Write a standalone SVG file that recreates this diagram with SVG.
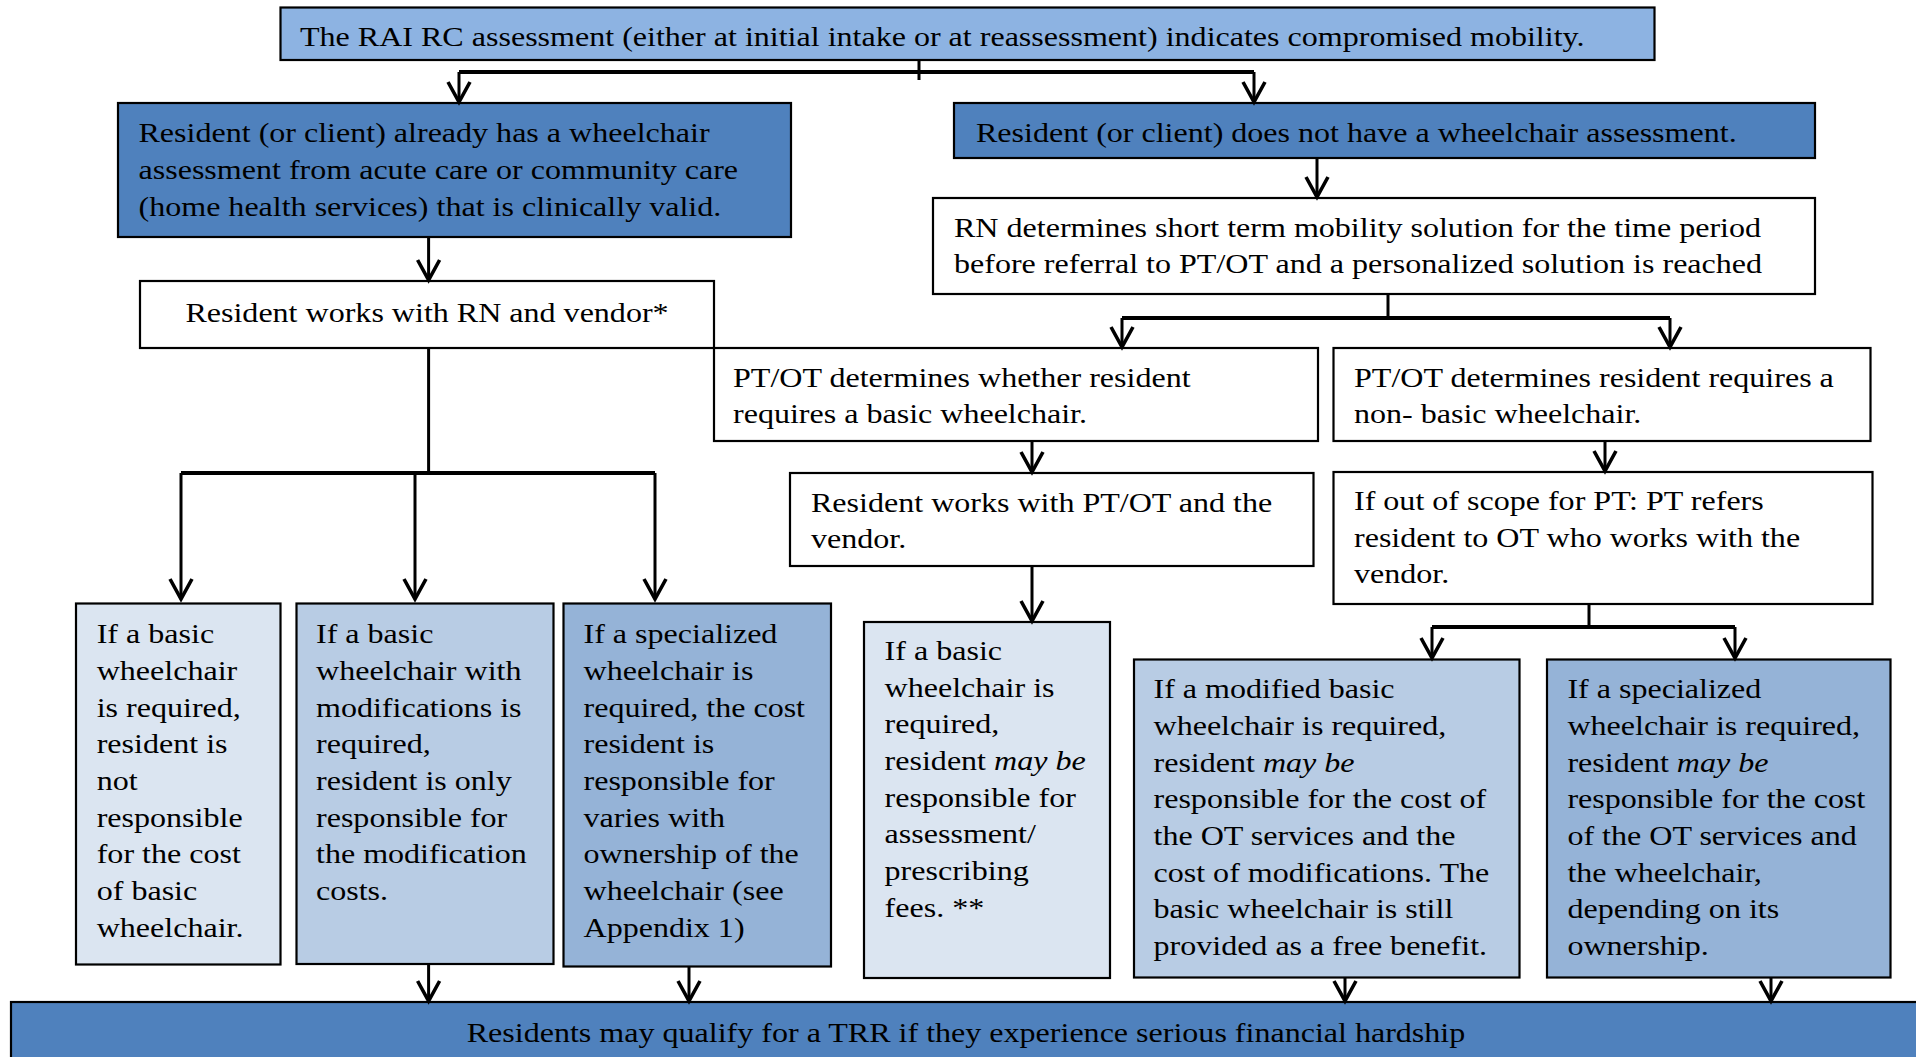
<svg xmlns="http://www.w3.org/2000/svg" width="1916" height="1057" viewBox="0 0 1916 1057">
<style>
.b{stroke:#000;stroke-width:2.2}
.w{fill:#fff}
.d{fill:#4F81BD}
.l{fill:#8DB3E2}
.c1{fill:#DBE5F1}
.c2{fill:#B8CCE4}
.c3{fill:#95B3D7}
text{font-family:"Liberation Serif","Times New Roman",serif;font-size:28px;fill:#000}
.i{font-style:italic}
.cn path{fill:none;stroke:#000;stroke-width:3}
.cn .bar{stroke-width:4}
</style>
<defs>
<marker id="arr" viewBox="-23 -13 25 26" refX="0" refY="0" markerWidth="25" markerHeight="26" markerUnits="userSpaceOnUse" orient="auto" overflow="visible">
<path d="M-20,-11 L0,0 L-20,11" fill="none" stroke="#000" stroke-width="3.6"/>
</marker>
</defs>
<rect width="1916" height="1057" fill="#fff"/>

<g id="n-top"><rect class="b l" x="280.5" y="7.5" width="1374" height="52.5"/>
<text transform="translate(300 46) scale(1.145 1)">The RAI RC assessment (either at initial intake or at reassessment) indicates compromised mobility.</text></g>

<g id="n-has"><rect class="b d" x="118" y="103" width="673" height="134"/>
<text transform="translate(138.5 141.7) scale(1.145 1)"><tspan x="0" y="0">Resident (or client) already has a wheelchair</tspan><tspan x="0" y="37">assessment from acute care or community care</tspan><tspan x="0" y="74">(home health services) that is clinically valid.</tspan></text></g>

<g id="n-hasnot"><rect class="b d" x="954" y="103" width="861" height="55"/>
<text transform="translate(976 141.7) scale(1.145 1)">Resident (or client) does not have a wheelchair assessment.</text></g>

<g id="n-rndet"><rect class="b w" x="933" y="198" width="882" height="96"/>
<text transform="translate(954 237.3) scale(1.145 1)"><tspan x="0" y="0">RN determines short term mobility solution for the time period</tspan><tspan x="0" y="36">before referral to PT/OT and a personalized solution is reached</tspan></text></g>

<g id="n-rnworks"><rect class="b w" x="140" y="281" width="574" height="67"/>
<text transform="translate(427 321.7) scale(1.145 1)" text-anchor="middle">Resident works with RN and vendor*</text></g>

<g id="n-ptbasic"><rect class="b w" x="714" y="348" width="604" height="93"/>
<text transform="translate(733 386.7) scale(1.145 1)"><tspan x="0" y="0">PT/OT determines whether resident</tspan><tspan x="0" y="36.6">requires a basic wheelchair.</tspan></text></g>

<g id="n-ptnonbasic"><rect class="b w" x="1333.5" y="348" width="537" height="93"/>
<text transform="translate(1354 386.7) scale(1.145 1)"><tspan x="0" y="0">PT/OT determines resident requires a</tspan><tspan x="0" y="36.6">non- basic wheelchair.</tspan></text></g>

<g id="n-ptworks"><rect class="b w" x="790" y="473" width="523.5" height="93"/>
<text transform="translate(811 511.7) scale(1.145 1)"><tspan x="0" y="0">Resident works with PT/OT and the</tspan><tspan x="0" y="36.6">vendor.</tspan></text></g>

<g id="n-scope"><rect class="b w" x="1333.5" y="472" width="539" height="132"/>
<text transform="translate(1354 510) scale(1.145 1)"><tspan x="0" y="0">If out of scope for PT: PT refers</tspan><tspan x="0" y="36.7">resident to OT who works with the</tspan><tspan x="0" y="73.4">vendor.</tspan></text></g>

<g id="n-a"><rect class="b c1" x="76" y="603.5" width="204.5" height="361"/>
<text transform="translate(96.7 643.3) scale(1.145 1)"><tspan x="0" y="0">If a basic</tspan><tspan x="0" y="36.7">wheelchair</tspan><tspan x="0" y="73.4">is required,</tspan><tspan x="0" y="110.1">resident is</tspan><tspan x="0" y="146.8">not</tspan><tspan x="0" y="183.5">responsible</tspan><tspan x="0" y="220.2">for the cost</tspan><tspan x="0" y="256.9">of basic</tspan><tspan x="0" y="293.6">wheelchair.</tspan></text></g>

<g id="n-b"><rect class="b c2" x="296.5" y="603.5" width="257" height="360.5"/>
<text transform="translate(316 643.3) scale(1.145 1)"><tspan x="0" y="0">If a basic</tspan><tspan x="0" y="36.7">wheelchair with</tspan><tspan x="0" y="73.4">modifications is</tspan><tspan x="0" y="110.1">required,</tspan><tspan x="0" y="146.8">resident is only</tspan><tspan x="0" y="183.5">responsible for</tspan><tspan x="0" y="220.2">the modification</tspan><tspan x="0" y="256.9">costs.</tspan></text></g>

<g id="n-c"><rect class="b c3" x="563.5" y="603.5" width="267.5" height="363"/>
<text transform="translate(583.5 643.3) scale(1.145 1)"><tspan x="0" y="0">If a specialized</tspan><tspan x="0" y="36.7">wheelchair is</tspan><tspan x="0" y="73.4">required, the cost</tspan><tspan x="0" y="110.1">resident is</tspan><tspan x="0" y="146.8">responsible for</tspan><tspan x="0" y="183.5">varies with</tspan><tspan x="0" y="220.2">ownership of the</tspan><tspan x="0" y="256.9">wheelchair (see</tspan><tspan x="0" y="293.6">Appendix 1)</tspan></text></g>

<g id="n-d"><rect class="b c1" x="864" y="622" width="246" height="356"/>
<text transform="translate(884.6 660) scale(1.145 1)"><tspan x="0" y="0">If a basic</tspan><tspan x="0" y="36.7">wheelchair is</tspan><tspan x="0" y="73.4">required,</tspan><tspan x="0" y="110.1">resident <tspan class="i">may be</tspan></tspan><tspan x="0" y="146.8">responsible for</tspan><tspan x="0" y="183.5">assessment/</tspan><tspan x="0" y="220.2">prescribing</tspan><tspan x="0" y="256.9">fees. **</tspan></text></g>

<g id="n-e"><rect class="b c2" x="1134" y="659.5" width="385.5" height="318"/>
<text transform="translate(1153.5 698.3) scale(1.145 1)"><tspan x="0" y="0">If a modified basic</tspan><tspan x="0" y="36.7">wheelchair is required,</tspan><tspan x="0" y="73.4">resident <tspan class="i">may be</tspan></tspan><tspan x="0" y="110.1">responsible for the cost of</tspan><tspan x="0" y="146.8">the OT services and the</tspan><tspan x="0" y="183.5">cost of modifications. The</tspan><tspan x="0" y="220.2">basic wheelchair is still</tspan><tspan x="0" y="256.9">provided as a free benefit.</tspan></text></g>

<g id="n-f"><rect class="b c3" x="1547" y="659.5" width="343.5" height="318"/>
<text transform="translate(1567.4 698.3) scale(1.145 1)"><tspan x="0" y="0">If a specialized</tspan><tspan x="0" y="36.7">wheelchair is required,</tspan><tspan x="0" y="73.4">resident <tspan class="i">may be</tspan></tspan><tspan x="0" y="110.1">responsible for the cost</tspan><tspan x="0" y="146.8">of the OT services and</tspan><tspan x="0" y="183.5">the wheelchair,</tspan><tspan x="0" y="220.2">depending on its</tspan><tspan x="0" y="256.9">ownership.</tspan></text></g>

<g id="n-trr"><rect class="b d" x="11" y="1002" width="1930" height="70"/>
<text transform="translate(966 1041.5) scale(1.145 1)" text-anchor="middle">Residents may qualify for a TRR if they experience serious financial hardship</text></g>

<g id="connectors" class="cn">
<path d="M919,60 V80"/>
<path class="bar" d="M459,72 H1254"/>
<path d="M459,72 V102" marker-end="url(#arr)"/>
<path d="M1254,72 V102" marker-end="url(#arr)"/>
<path d="M428.6,237 V280" marker-end="url(#arr)"/>
<path d="M428.6,348 V473"/>
<path class="bar" d="M181,473 H655"/>
<path d="M181,473 V599" marker-end="url(#arr)"/>
<path d="M415,473 V599" marker-end="url(#arr)"/>
<path d="M655,473 V599" marker-end="url(#arr)"/>
<path d="M1317,158 V197" marker-end="url(#arr)"/>
<path d="M1388,294 V318"/>
<path class="bar" d="M1122,318 H1670"/>
<path d="M1122,318 V347" marker-end="url(#arr)"/>
<path d="M1670,318 V347" marker-end="url(#arr)"/>
<path d="M1032,441 V472" marker-end="url(#arr)"/>
<path d="M1032,566 V621" marker-end="url(#arr)"/>
<path d="M1605,441 V471" marker-end="url(#arr)"/>
<path d="M1589,604 V627"/>
<path class="bar" d="M1432,627 H1735"/>
<path d="M1432,627 V658" marker-end="url(#arr)"/>
<path d="M1735,627 V658" marker-end="url(#arr)"/>
<path d="M428.6,964 V1001" marker-end="url(#arr)"/>
<path d="M689,967 V1001" marker-end="url(#arr)"/>
<path d="M1345,978 V1001" marker-end="url(#arr)"/>
<path d="M1771,978 V1001" marker-end="url(#arr)"/>
</g>
</svg>
